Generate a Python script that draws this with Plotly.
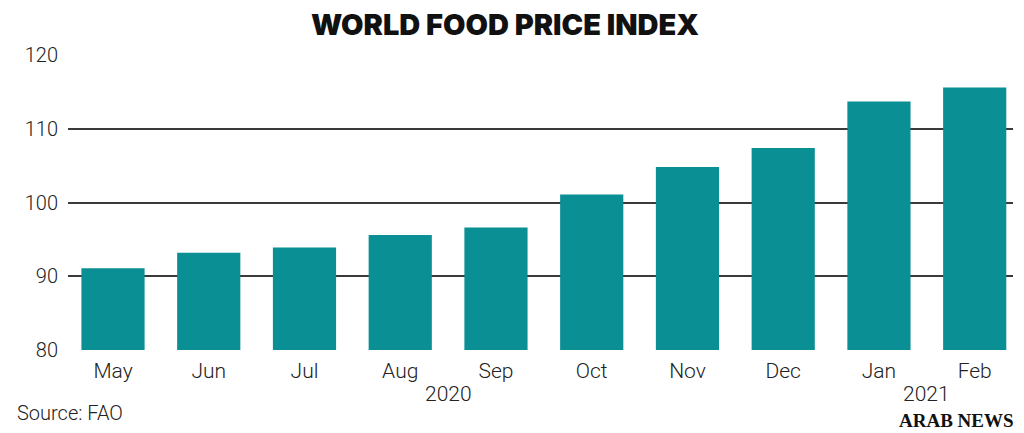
import plotly.graph_objects as go

months = ["May", "Jun", "Jul", "Aug", "Sep", "Oct", "Nov", "Dec", "Jan", "Feb"]
values = [91.1, 93.2, 93.9, 95.6, 96.6, 101.1, 104.8, 107.4, 113.7, 115.6]
years = ["2020", "2021"]
year_pos = [3.5, 8.5]
y_ticks = [80, 90, 100, 110, 120]

TEAL = "#0a8f94"
INK = "#222222"
FONT = "Roboto"
WT = 300

# page body adds an 8px offset; layout sized accordingly
W, H = 1016, 425
L, R, T, B = 60, 11, 47, 83
PH = H - T - B  # plot height in px

fig = go.Figure(go.Bar(
    x=list(range(len(months))),
    y=values,
    marker=dict(color=TEAL, line=dict(width=0)),
    hoverinfo="skip",
))

fig.update_layout(
    width=W, height=H,
    margin=dict(l=L, r=R, t=T, b=B),
    paper_bgcolor="white", plot_bgcolor="white",
    bargap=0.34,
    showlegend=False,
    title=dict(text="WORLD FOOD PRICE INDEX", x=(505 - 8) / W, xanchor="center",
               y=1 - 17 / H, yanchor="middle",
               font=dict(family="Inter", size=29, color="#111111", weight=900)),
    font=dict(family=FONT, color=INK, size=20, weight=WT),
)

fig.update_xaxes(
    tickmode="array", tickvals=list(range(len(months))), ticktext=months,
    range=[-0.47, 9.40], showgrid=False, zeroline=False, showline=False,
    ticks="", tickfont=dict(family=FONT, size=21, color=INK, weight=WT),
    ticklabelstandoff=6,
)
fig.update_yaxes(
    range=[80, 120], tickmode="array", tickvals=y_ticks,
    showgrid=True, gridcolor="#3a3a3a", gridwidth=1.5,
    zeroline=False, showline=False, ticks="",
    tickfont=dict(family=FONT, size=20, color=INK, weight=WT),
    ticklabelstandoff=9,
)

for yr, xp in zip(years, year_pos):
    fig.add_annotation(text=yr, x=xp, xref="x", y=-44 / PH, yref="paper",
                       showarrow=False, yanchor="middle",
                       font=dict(family=FONT, size=21, color=INK, weight=WT))

fig.add_annotation(text="Source: FAO", xref="paper", yref="paper",
                   x=(7 - L) / (W - L - R), xanchor="left",
                   y=-63 / PH, yanchor="middle",
                   showarrow=False, font=dict(family=FONT, size=20, color=INK, weight=WT))
fig.add_annotation(text="<b>ARAB NEWS</b>", xref="paper", yref="paper",
                   x=(1008 - L) / (W - L - R), xanchor="right",
                   y=-70 / PH, yanchor="middle",
                   showarrow=False, font=dict(family="Liberation Serif", size=19, color="#111111"))

fig.write_html("out.html")
